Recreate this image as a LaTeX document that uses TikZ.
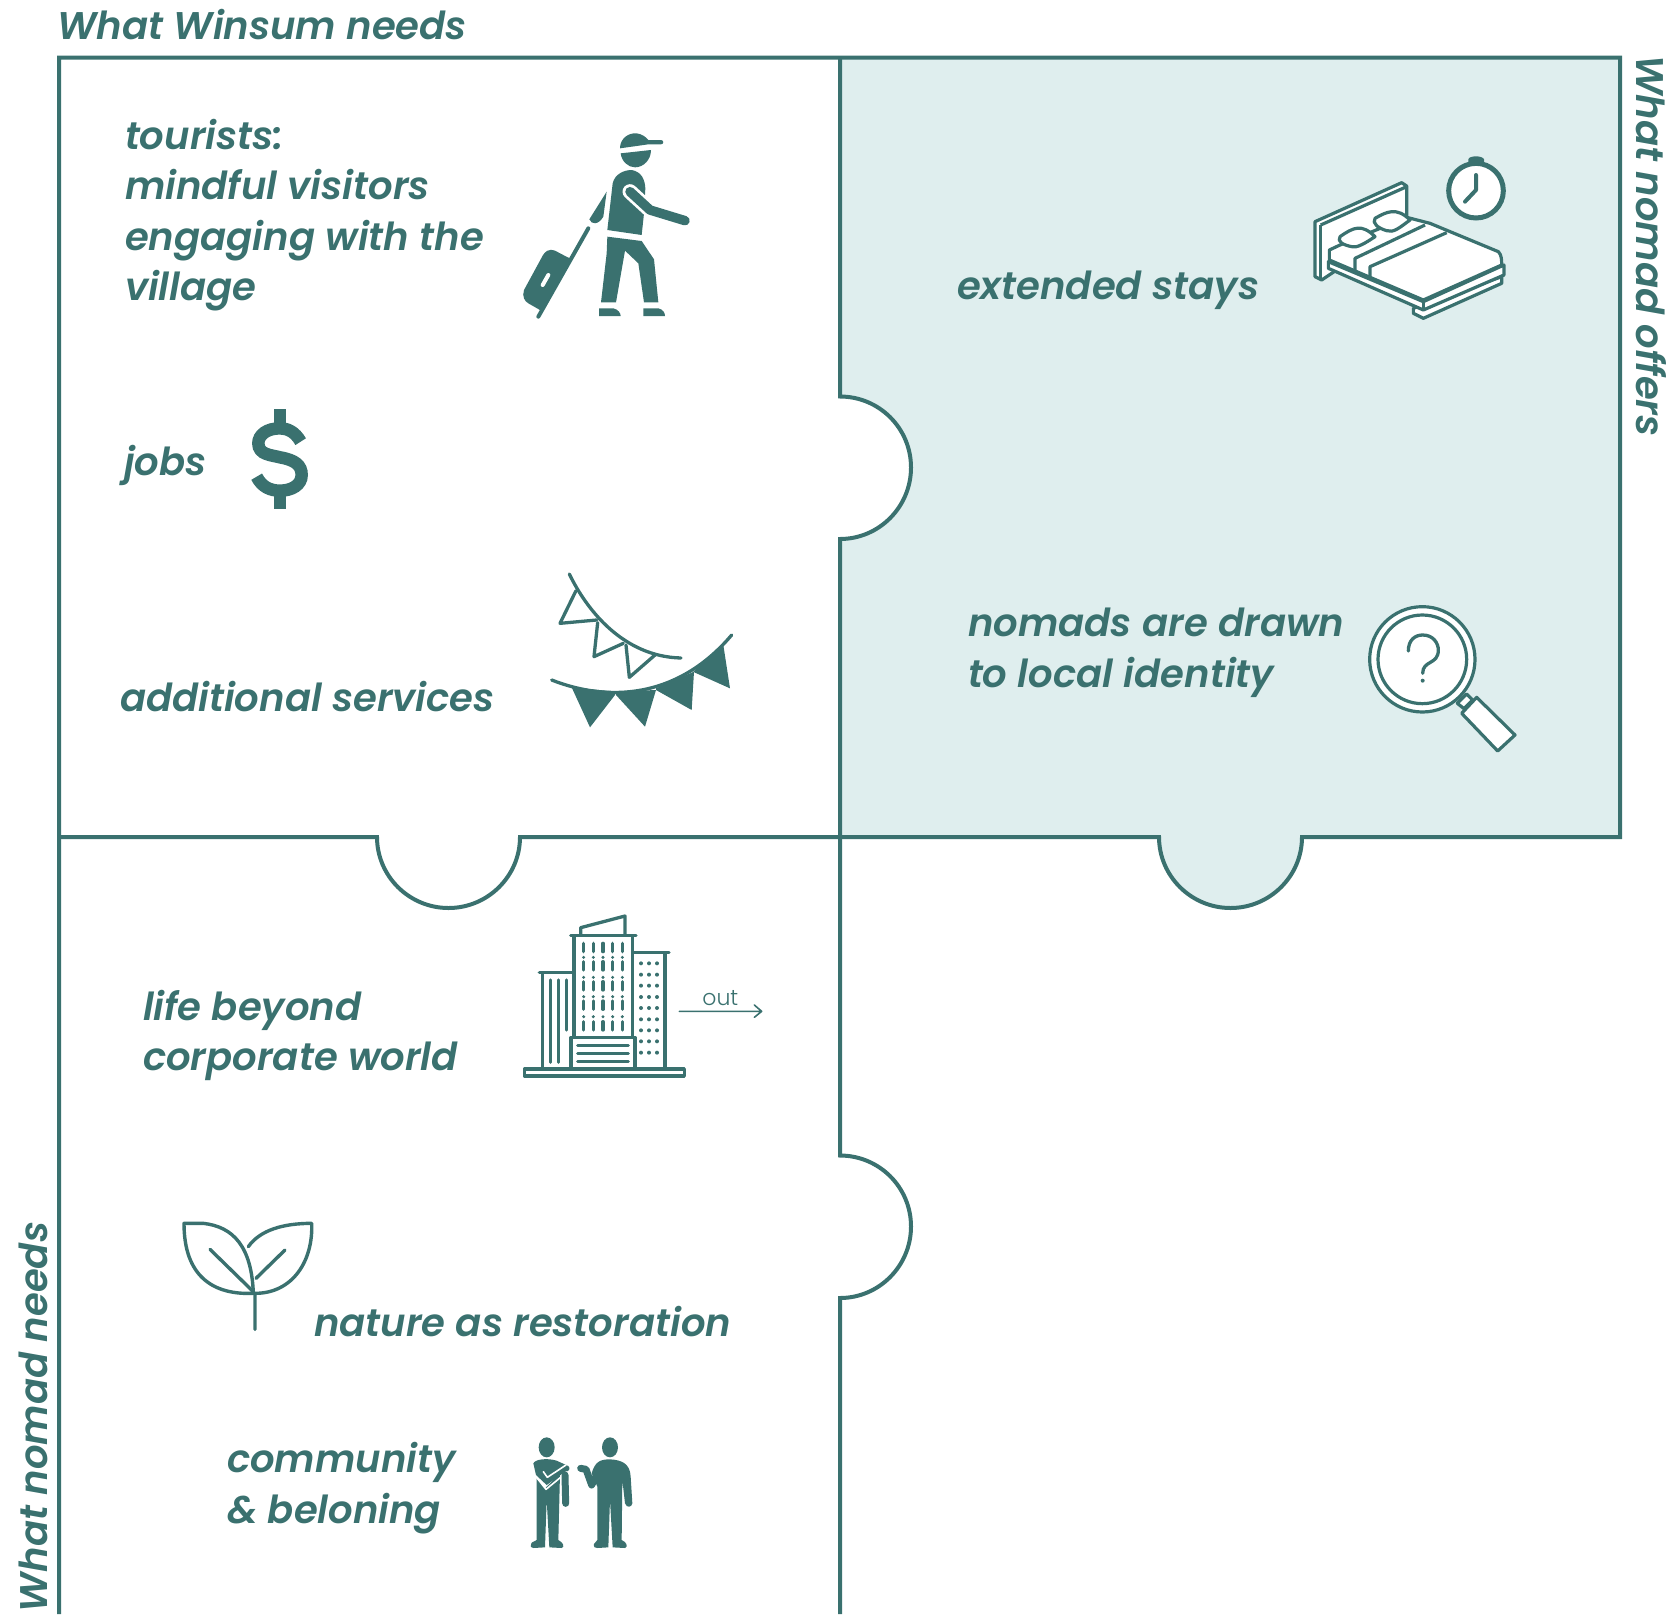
\documentclass[tikz,border=0pt]{standalone}
\usepackage{fontspec}
\setmainfont{Poppins}[UprightFont=* SemiBold,ItalicFont=* SemiBold Italic,BoldFont=* SemiBold,BoldItalicFont=* SemiBold Italic]
\newfontfamily\lightf{Poppins Light}
\definecolor{teal}{HTML}{3A716F}
\definecolor{pale}{HTML}{DFEEEE}
\tikzset{
  lab/.style={anchor=base west,inner sep=0pt,outer sep=0pt,text=teal,font=\fontsize{38.6}{50}\selectfont\itshape,align=left},
  frameline/.style={draw=teal,line width=4pt,line join=miter},
  ink/.style={fill=teal,draw=none},
  thin line/.style={draw=teal,line width=3.3pt,line cap=round,line join=round},
  icon/.style={scale=0.33333}
}
\begin{document}
\begin{tikzpicture}[x=1pt,y=-1pt]
\useasboundingbox (0,0) rectangle (1680,1614);
% teal panel
\fill[pale] (840,57.5) -- (1620,57.5) -- (1620,837) -- (1302,837)
  .. controls (1302,876) and (1270,908) .. (1230.5,908)
  .. controls (1191,908) and (1159,876) .. (1159,837) -- (840,837) -- (840,538)
  .. controls (879,538) and (912,506) .. (912,467)
  .. controls (912,428) and (879,396) .. (840,396) -- cycle;
% frame
\path[frameline] (59,1614) -- (59,57.5) -- (1620,57.5) -- (1620,837) -- (1302,837)
  .. controls (1302,876) and (1270,908) .. (1230.5,908)
  .. controls (1191,908) and (1159,876) .. (1159,837) -- (840,837);
\path[frameline] (840,57.5) -- (840,396.5)
  .. controls (879,396.5) and (911,428) .. (911,467.5)
  .. controls (911,507) and (879,539) .. (840,539) -- (840,1155.5)
  .. controls (879,1155.5) and (911,1187) .. (911,1226.5)
  .. controls (911,1266) and (879,1298) .. (840,1298) -- (840,1614);
\path[frameline] (59,837) -- (377,837)
  .. controls (377,876) and (409,908) .. (448.5,908)
  .. controls (488,908) and (520,876) .. (520,837) -- (840,837);
% labels
\node[lab] (t1) at (57,39) {What Winsum needs};
\node[lab,rotate=-90] (t2) at (1636,55) {What nomad offers};
\node[lab,rotate=90] (t3) at (47,1612) {What nomad needs};
\node[lab] (a1) at (125,149) {tourists:};
\node[lab] (a2) at (125,199) {mindful visitors};
\node[lab] (a3) at (125,250) {engaging with the};
\node[lab] (a4) at (125,300) {village};
\node[lab] (b) at (124,475) {jobs};
\node[lab] (c) at (120,711) {additional services};
\node[lab] (d) at (957,299) {extended stays};
\node[lab] (e1) at (968,636) {nomads are drawn};
\node[lab] (e2) at (968,687) {to local identity};
\node[lab] (f1) at (143,1020) {life beyond};
\node[lab] (f2) at (143,1070) {corporate world};
\node[lab] (g) at (314,1336) {nature as restoration};
\node[lab] (h1) at (227,1472) {community};
\node[lab] (h2) at (227,1523) {\& beloning};
% traveller
\begin{scope}[shift={(500,110)},icon]
\path[ink] (360,112) .. controls (362,85) and (385,68) .. (410,70) .. controls (425,72) and (437,80) .. (445,90) -- (483,90) .. controls (492,90) and (492,103) .. (483,103) -- (445,103) -- (360,115) -- cycle;
\path[ink] (362,130) -- (453,120) .. controls (453,150) and (430,172) .. (405,172) .. controls (385,172) and (365,155) .. (362,130) -- cycle;
\path[ink] (322,360) -- (338,220) .. controls (345,190) and (375,180) .. (395,180) .. controls (425,185) and (435,210) .. (436,235) -- (432,310) -- (425,375) -- cycle;
\draw[white,line width=15pt,line cap=round,line join=round] (390,245) -- (450,300);
\draw[teal,line width=9.5pt,line cap=round,line join=round] (390,245) -- (450,300) -- (555,332);
\path[ink] (320,245) -- (310,320) .. controls (295,345) and (275,345) .. (268,328) -- cycle;
\draw[teal,line width=4pt,line cap=round] (265,355) -- (115,620);
\path[ink] (205,443) -- (165,422) .. controls (145,415) and (135,425) .. (128,437) -- (72,540) .. controls (65,560) and (75,575) .. (85,580) -- (125,603) -- (218,445) -- cycle;
\draw[white,line width=4pt,line cap=round] (128,525) -- (145,495);
\path[ink] (322,380) -- (425,393) -- (462,448) -- (475,577) -- (432,577) -- (415,460) -- (375,422) -- (348,577) -- (303,577) -- (320,430) -- cycle;
\path[ink] (297,595) -- (340,595) .. controls (355,598) and (362,610) .. (362,618) -- (297,618) -- cycle;
\path[ink] (430,595) -- (475,595) .. controls (490,598) and (495,610) .. (495,618) -- (430,618) -- cycle;
\end{scope}
% dollar
\begin{scope}[shift={(230,400)},icon]
\path[ink] (133,28) rectangle (168,70);
\path[ink] (133,285) rectangle (168,327);
\draw[teal,line width=12.5pt] (212,125) .. controls (195,95) and (172,85) .. (150,85) .. controls (110,85) and (85,105) .. (85,130) .. controls (85,165) and (125,165) .. (150,172) .. controls (195,180) and (215,195) .. (215,225) .. controls (215,255) and (185,272) .. (150,272) .. controls (120,272) and (95,260) .. (80,230);
\end{scope}
% bunting
\begin{scope}[shift={(530,560)},icon]
\draw[thin line] (118,42) .. controls (170,150) and (280,290) .. (453,294);
\draw[thin line] (138,92) -- (90,190) -- (200,180);
\draw[thin line] (203,188) -- (192,290) -- (280,250);
\draw[thin line] (288,255) -- (298,352) -- (375,285);
\draw[thin line] (65,360) .. controls (230,425) and (440,420) .. (605,225);
\path[ink] (125,382) -- (180,502) -- (255,405) -- (258,395) -- cycle;
\path[ink] (258,395) -- (258,405) -- (345,500) -- (378,390) -- cycle;
\path[ink] (378,385) -- (378,390) -- (485,450) -- (492,335) -- cycle;
\path[ink] (490,335) -- (495,338) -- (600,385) -- (580,255) -- cycle;
\end{scope}
% bed and clock
\begin{scope}[shift={(1290,140)},icon]
\tikzset{bedl/.style={draw=teal,fill=white,line width=3.2pt,line join=round}}
\path[bedl] (75,245) -- (335,128) -- (350,138) -- (350,250) -- (125,400) -- (95,420) -- (75,410) -- cycle;
\path[bedl] (92,255) -- (350,140);
\path[bedl] (92,255) -- (92,420);
\path[bedl] (370,505) -- (370,520) -- (400,535) -- (635,430) -- (635,410) -- cycle;
\path[bedl] (115,365) -- (400,485) -- (642,375) -- (642,405) -- (400,510) -- (115,385) -- cycle;
\draw[teal,line width=3.2pt] (400,485) -- (400,510);
\path[bedl] (118,360) -- (118,330) -- (150,315) -- (350,232) -- (420,250) -- (625,335) .. controls (635,345) and (635,360) .. (635,375) -- (400,480) -- cycle;
\draw[teal,line width=3.2pt,line join=round] (195,390) -- (195,355) -- (405,255);
\draw[teal,line width=3.2pt,line join=round] (240,410) -- (240,380) -- (470,278);
\path[bedl] (150,290) .. controls (190,262) and (215,250) .. (255,290) .. controls (225,310) and (200,325) .. (185,320) .. controls (160,315) and (140,305) .. (150,290) -- cycle;
\path[bedl] (255,235) .. controls (290,215) and (320,200) .. (360,240) .. controls (330,262) and (310,280) .. (290,272) .. controls (265,265) and (245,250) .. (255,235) -- cycle;
\path[ink] (535,80) -- (535,58) .. controls (537,46) and (578,46) .. (582,58) -- (582,80) -- cycle;
\draw[teal,fill=white,line width=5pt] (558,152) circle (82);
\draw[teal,line width=4pt,line cap=round,line join=round] (558,105) -- (558,150) -- (525,185);
\end{scope}
% magnifier
\begin{scope}[shift={(1350,590)},icon]
\tikzset{magl/.style={draw=teal,fill=white,line width=3.2pt,line join=round}}
\path[magl] (322,340) -- (350,312) -- (368,330) -- (342,356) -- cycle;
\path[magl] (335,370) -- (380,322) -- (495,435) -- (443,483) -- cycle;
\draw[teal,fill=white,line width=3.2pt] (217,208) circle (158);
\draw[teal,fill=white,line width=3.2pt] (217,208) circle (133);
\draw[thin line] (175,183) .. controls (175,150) and (195,135) .. (218,135) .. controls (250,135) and (265,160) .. (265,180) .. controls (265,225) and (218,210) .. (218,250);
\fill[teal] (218,272) circle (6);
\end{scope}
% building
\begin{scope}[shift={(510,900)},icon]
\tikzset{bl/.style={draw=teal,line width=3.3pt,line join=round,line cap=round}}
\draw[bl] (43,507) rectangle (523,528);
\draw[bl] (97,505) -- (97,218) (88,217) -- (190,217);
\draw[bl] (122,240) -- (122,487) (146,240) -- (146,487) (170,240) -- (170,390);
\draw[bl] (192,410) -- (192,108) (368,410) -- (368,108) (182,107) -- (378,107);
\draw[bl] (212,105) -- (212,83) -- (345,48) -- (345,105);
\draw[bl] (183,505) -- (183,412) -- (375,412) -- (375,505);
\draw[bl] (203,437) -- (355,437) (203,461) -- (355,461) (203,485) -- (355,485);
\draw[bl] (368,158) -- (477,158) (465,160) -- (465,505);
\foreach \cx in {221,250,279,308,337}{
  \foreach \ry in {130,185,245,303,365}{\draw[bl] (\cx,\ry) -- (\cx,\ry+25);}
  \foreach \dy in {172,232,290,350}{\fill[teal] (\cx,\dy) circle (5);}
}
\foreach \cx in {393,417,441}{
  \foreach \dy in {190,224,257,291,324,358,391,424,458}{\fill[teal] (\cx,\dy) circle (6);}
}
\coordinate (outa) at (508,334);
\coordinate (outb) at (755,334);
\draw[teal,line width=1.6pt,line cap=round,line join=round] (outa) -- (outb) (733,315) -- (outb) -- (733,352);
\node[anchor=base,inner sep=0pt,text=teal,font=\fontsize{22}{24}\selectfont\lightf] (outlabel) at (631,317) {out};
\end{scope}
% leaf
\begin{scope}[shift={(170,1210)},icon]
\tikzset{lf/.style={draw=teal,line width=3.4pt,line cap=round,line join=round}}
\draw[lf] (42,40) -- (100,40) .. controls (190,50) and (245,110) .. (250,250) .. controls (130,255) and (42,200) .. (42,40) -- cycle;
\draw[lf] (235,110) .. controls (270,60) and (340,40) .. (425,40) .. controls (430,150) and (370,250) .. (255,250);
\draw[lf] (120,118) -- (250,245) (345,120) -- (258,205) (255,250) -- (255,358);
\end{scope}
% people
\begin{scope}[shift={(510,1420)},icon]
\fill[teal] (110,82) ellipse (24 and 30);
\fill[teal] (300,82) ellipse (24 and 30);
\path[ink] (80,175) -- (80,360) -- (65,368) .. controls (60,380) and (62,384) .. (70,384) -- (105,382) -- (110,240) -- (118,382) -- (155,384) .. controls (165,380) and (160,368) .. (145,360) -- (150,160) -- (105,205) -- cycle;
\path[ink] (70,130) .. controls (75,118) and (110,113) .. (140,122) -- (175,138) .. controls (182,145) and (178,155) .. (165,155) -- (110,195) -- (78,165) -- cycle;
\draw[white,line width=1.6pt,line cap=round,line join=round] (100,155) -- (112,172) -- (168,135);
\draw[white,line width=1.6pt,line cap=round,line join=round] (78,170) -- (108,208) -- (170,157);
\draw[teal,line width=7pt,line cap=round] (165,165) -- (167,250);
\path[ink] (262,360) -- (252,372) .. controls (250,382) and (255,384) .. (262,384) -- (295,382) -- (300,240) -- (308,382) -- (345,384) .. controls (355,380) and (350,366) .. (335,360) -- (337,180) -- (345,250) .. controls (350,265) and (365,262) .. (367,250) -- (362,170) .. controls (360,130) and (335,120) .. (300,118) .. controls (270,118) and (255,125) .. (245,160) -- (262,200) -- cycle;
\draw[teal,line width=7pt,line cap=round,line join=round] (212,145) -- (228,148) -- (245,195) -- (258,170);
\end{scope}
\end{tikzpicture}
\end{document}
